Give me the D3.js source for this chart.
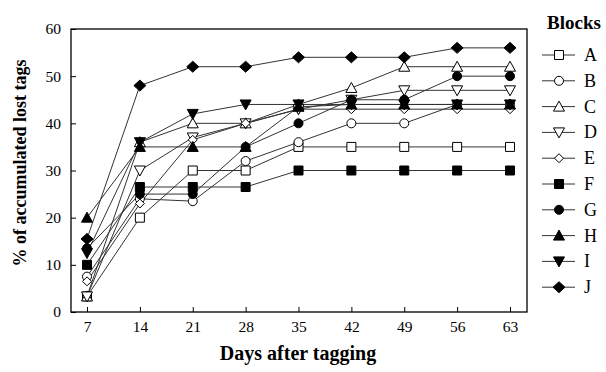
<!DOCTYPE html>
<html><head><meta charset="utf-8">
<script src="https://cdn.jsdelivr.net/npm/d3@7"></script>
<style>body{margin:0;background:#fff}svg{display:block}text{font-family:"Liberation Serif","Times New Roman",serif;fill:#000}</style>
</head><body><div id="c"></div>
<script>
const days = [7,14,21,28,35,42,49,56,63];
const yTicks = [0,10,20,30,40,50,60];
const blockA = [3.3,20,30,30,35,35,35,35,35];
const blockB = [7.5,24,23.5,32,36,40,40,44,44];
const blockC = [3.3,36,40,40,44,47.5,52,52,52];
const blockD = [3.3,30,37,40,43,45,47,47,47];
const blockE = [6.5,23,36.5,40,43,43,43,43,43];
const blockF = [10,26.5,26.5,26.5,30,30,30,30,30];
const blockG = [13.5,25,25,35,40,45,45,50,50];
const blockH = [20,35,35,35,43.5,44,44,44,44];
const blockI = [12.5,36,42,44,44,44,44,44,44];
const blockJ = [15.5,48,52,52,54,54,54,56,56];
const names = ["A","B","C","D","E","F","G","H","I","J"];
const values = [blockA,blockB,blockC,blockD,blockE,blockF,blockG,blockH,blockI,blockJ];
const shapes = ["square","circle","tri","itri","diamondS","square","circle","tri","itri","diamond"];
const filled = [false,false,false,false,false,true,true,true,true,true];

const W=606,H=372;
const svg=d3.select("#c").append("svg").attr("width",W).attr("height",H);
const fL=71,fR=527,fT=29,fB=312;
const x=d3.scaleLinear().domain([7,63]).range([87,510]);
const y=d3.scaleLinear().domain([0,60]).range([fB,fT]);

function shapePath(s){
  switch(s){
    case "square": return "M-4.5,-4.5H4.5V4.5H-4.5Z";
    case "circle": return "M4.5,0A4.5,4.5 0 1,1 -4.5,0A4.5,4.5 0 1,1 4.5,0Z";
    case "tri": return "M0,-5.5L5.5,4.5L-5.5,4.5Z";
    case "itri": return "M0,5.5L5.5,-4.5L-5.5,-4.5Z";
    case "diamond": return "M0,-5.5L6,0L0,5.5L-6,0Z";
    case "diamondS": return "M0,-4.5L4.5,0L0,4.5L-4.5,0Z";
  }
}

// frame
svg.append("rect").attr("x",fL).attr("y",fT).attr("width",fR-fL).attr("height",fB-fT)
  .attr("fill","none").attr("stroke","#000").attr("stroke-width",1.3);

// axes (inward ticks)
const gy=svg.append("g").attr("transform",`translate(${fL},0)`)
  .call(d3.axisLeft(y).tickValues(yTicks).tickSize(-5).tickPadding(10));
gy.select(".domain").remove();
gy.selectAll("line").attr("stroke","#000");
gy.selectAll("text").style("font-size","15.5px").attr("font-family","Liberation Serif");
const gx=svg.append("g").attr("transform",`translate(0,${fB})`)
  .call(d3.axisBottom(x).tickValues(days).tickSize(-5).tickPadding(9));
gx.select(".domain").remove();
gx.selectAll("line").attr("stroke","#000");
gx.selectAll("text").style("font-size","15.5px").attr("font-family","Liberation Serif");

// titles
svg.append("text").attr("x",298).attr("y",360).attr("text-anchor","middle")
  .style("font-size","20px").style("font-weight","bold").text("Days after tagging");
svg.append("text").attr("transform","translate(26,163) rotate(-90)").attr("text-anchor","middle")
  .style("font-size","18px").style("font-weight","bold").text("% of accumulated lost tags");

// series
const line=d3.line().x((d,i)=>x(days[i])).y(d=>y(d));
values.forEach((v,k)=>{
  svg.append("path").datum(v).attr("d",line).attr("fill","none").attr("stroke","#333").attr("stroke-width",1);
});
values.forEach((v,k)=>{
  svg.append("g").selectAll("path").data(v).join("path")
    .attr("d",shapePath(shapes[k]))
    .attr("transform",(d,i)=>`translate(${x(days[i])},${y(d)})`)
    .attr("fill",filled[k]?"#000":"#fff").attr("stroke","#000").attr("stroke-width",1);
});

// legend
svg.append("text").attr("x",547).attr("y",29).style("font-size","19px").style("font-weight","bold").text("Blocks");
const lg=svg.append("g");
names.forEach((n,k)=>{
  const yy=55+k*25.8;
  lg.append("line").attr("x1",542).attr("x2",575).attr("y1",yy).attr("y2",yy).attr("stroke","#333").attr("stroke-width",1);
  lg.append("path").attr("d",shapePath(shapes[k])).attr("transform",`translate(559,${yy})`)
    .attr("fill",filled[k]?"#000":"#fff").attr("stroke","#000");
  lg.append("text").attr("x",584).attr("y",yy+6).style("font-size","18px").text(n);
});
</script></body></html>
